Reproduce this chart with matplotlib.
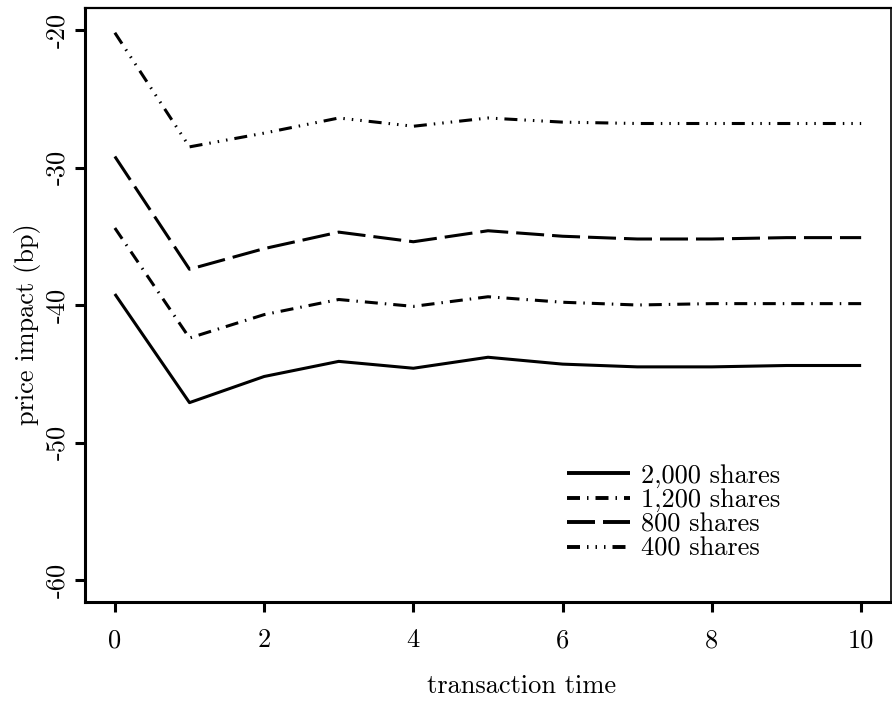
#!/usr/bin/env python3
"""Price impact over transaction time for four trade sizes."""

import matplotlib

matplotlib.use("Agg")
import matplotlib.pyplot as plt
import numpy as np

time = np.arange(11)
shares_2000 = [-39.2, -47.1, -45.2, -44.1, -44.6, -43.8, -44.3, -44.5, -44.5, -44.4, -44.4]
shares_1200 = [-34.4, -42.4, -40.7, -39.6, -40.1, -39.4, -39.8, -40.0, -39.9, -39.9, -39.9]
shares_800 = [-29.2, -37.4, -35.9, -34.7, -35.4, -34.6, -35.0, -35.2, -35.2, -35.1, -35.1]
shares_400 = [-20.2, -28.5, -27.5, -26.4, -27.0, -26.4, -26.7, -26.8, -26.8, -26.8, -26.8]
labels = ["2,000 shares", "1,200 shares", "800 shares", "400 shares"]
x_ticks = [0, 2, 4, 6, 8, 10]
y_ticks = [-60, -50, -40, -30, -20]

PX = 0.72  # points per pixel at 100 dpi
styles = [
    "-",
    (0, (13 * PX, 7 * PX, 1.5 * PX, 7 * PX)),
    (0, (28 * PX, 8 * PX)),
    (0, (13 * PX, 7 * PX, 1.5 * PX, 7 * PX, 1.5 * PX, 7 * PX, 1.5 * PX, 7 * PX)),
]
FS = 19


def main() -> None:
    plt.rcParams.update(
        {
            "font.family": "cmr10",
            "font.size": FS,
            "lines.scale_dashes": False,
            "axes.unicode_minus": False,
        }
    )
    fig = plt.figure(figsize=(8.92, 7.02), dpi=100)
    ax = fig.add_axes([85 / 892, 100 / 702, 806 / 892, 594 / 702])

    series = [shares_2000, shares_1200, shares_800, shares_400]
    for values, style, label in zip(series, styles, labels):
        ax.plot(time, values, color="black", linestyle=style, linewidth=2.2,
                dash_capstyle="butt", solid_capstyle="butt", label=label)

    ax.set_xlim(-0.4, 10.4)
    ax.set_ylim(-61.6, -18.4)
    ax.set_xticks(x_ticks, [str(t) for t in x_ticks])
    ax.set_yticks(y_ticks, [str(t) for t in y_ticks])
    for label in ax.get_yticklabels():
        label.set_rotation(90)
        label.set_verticalalignment("center")
    ax.tick_params(axis="both", direction="out", length=7, width=2.2, labelsize=FS)
    ax.tick_params(axis="x", pad=12)
    ax.tick_params(axis="y", pad=4)
    ax.spines["left"].set_linewidth(2.2)
    ax.spines["bottom"].set_linewidth(2.2)
    ax.spines["top"].set_linewidth(1.6)
    ax.spines["right"].set_linewidth(1.2)

    ax.set_xlabel("transaction time", fontsize=FS)
    ax.xaxis.label.set_verticalalignment("baseline")
    ax.xaxis.set_label_coords(522 / 806 - 85 / 806, (602 - 693) / 594)
    ax.set_ylabel("price impact (bp)", fontsize=FS)
    ax.yaxis.label.set_verticalalignment("baseline")
    ax.yaxis.set_label_coords((34 - 85) / 806, (602 - 324) / 594)

    leg = ax.legend(
        loc="upper left",
        bbox_to_anchor=(567 / 892, 1 - 464 / 702),
        bbox_transform=fig.transFigure,
        frameon=False,
        borderpad=0,
        borderaxespad=0,
        handlelength=2.4,
        handletextpad=0.4,
        labelspacing=0.02,
        fontsize=FS,
    )
    for handle in leg.get_lines():
        handle.set_linewidth(2.8)

    fig.savefig("out.png", dpi=100)
    plt.close(fig)


if __name__ == "__main__":
    main()
